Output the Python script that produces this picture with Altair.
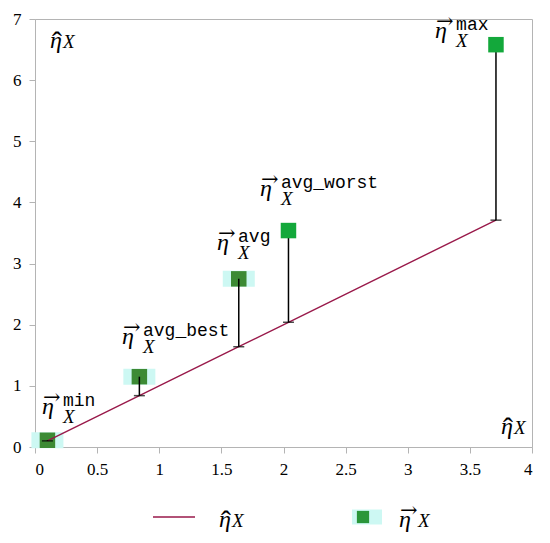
import altair as alt
import pandas as pd

# ---- data ----
names = ["min", "avg_best", "avg", "avg_worst", "max"]
eta_hat = [0.10, 0.84, 1.64, 2.04, 3.71]      # \hat{eta}_X (x and line value)
eta_vec = [0.11, 1.15, 2.75, 3.54, 6.58]      # \vec{eta}_X (square value)
tones = ["dark", "dark", "dark", "bright", "bright"]
label_x = [0.056, 0.70, 1.465, 1.81, 3.22]    # annotation anchor (left of eta glyph)
label_y = [0.72, 1.87, 3.40, 4.29, 6.87]      # annotation anchor (top of eta glyph)
x_ticks = [0, 0.5, 1, 1.5, 2, 2.5, 3, 3.5, 4]
y_ticks = [0, 1, 2, 3, 4, 5, 6, 7]

df = pd.DataFrame({"name": names, "hat": eta_hat, "vec": eta_vec,
                   "tone": tones, "lx": label_x, "ly": label_y})
one = pd.DataFrame({"k": [0]})

SERIF = "Liberation Serif"
MONO = "Liberation Mono"
ARROWF = "DejaVu Serif"
LINE_C = "#99194a"
HALO_C = "#cdf8f3"
GRAY = "#b4b4b4"

xs = alt.Scale(domain=[0, 4], nice=False, zero=False)
ys = alt.Scale(domain=[0, 7], nice=False, zero=False)

axis_style = dict(grid=False, domainColor=GRAY, tickColor=GRAY, tickSize=6,
                  labelFont=SERIF, labelFontSize=17, labelColor="black",
                  labelPadding=8, title=None)
X = alt.X("hat:Q", scale=xs, axis=alt.Axis(values=x_ticks, format="~g", **axis_style))
Y = alt.Y("hat:Q", scale=ys, axis=alt.Axis(values=y_ticks, format="d", **axis_style))

base = alt.Chart(df)

halo = base.transform_filter(alt.datum.tone == "dark").mark_point(
    shape="M-1,-0.5H1V0.5H-1Z", filled=True, opacity=1, size=1024, color=HALO_C
).encode(x=alt.X("hat:Q", scale=xs), y=alt.Y("vec:Q", scale=ys))

sq_dark = base.transform_filter(alt.datum.tone == "dark").mark_point(
    shape="square", filled=True, opacity=1, size=240, color="#3c8a34"
).encode(x=alt.X("hat:Q", scale=xs), y=alt.Y("vec:Q", scale=ys))

line = base.mark_line(color=LINE_C, strokeWidth=1.4).encode(x=X, y=Y)

rules = base.mark_rule(color="black", strokeWidth=1.5).encode(
    x=alt.X("hat:Q", scale=xs), y=alt.Y("hat:Q", scale=ys), y2="vec:Q")

ticks = base.mark_tick(orient="horizontal", size=11, thickness=1.5, color="black").encode(
    x=alt.X("hat:Q", scale=xs), y=alt.Y("hat:Q", scale=ys))

sq_bright = base.transform_filter(alt.datum.tone == "bright").mark_point(
    shape="square", filled=True, opacity=1, size=240, color="#13a83b"
).encode(x=alt.X("hat:Q", scale=xs), y=alt.Y("vec:Q", scale=ys))

lpos = dict(x=alt.X("lx:Q", scale=xs), y=alt.Y("ly:Q", scale=ys))
eta_t = base.mark_text(align="left", baseline="alphabetic", dy=11, font=SERIF,
                       fontStyle="italic", fontSize=24, color="black").encode(
    text=alt.value("η"), **lpos)
arrow_t = base.mark_text(align="left", baseline="middle", dx=1, dy=-5, font=ARROWF,
                         fontSize=21, color="black").encode(
    text=alt.value("→"), **lpos)
sup_t = base.mark_text(align="left", baseline="alphabetic", dx=21, dy=3, font=MONO,
                       fontSize=18, color="black").encode(text="name:N", **lpos)
sub_t = base.mark_text(align="left", baseline="alphabetic", dx=21, dy=20, font=SERIF,
                       fontStyle="italic", fontSize=19, color="black").encode(
    text=alt.value("X"), **lpos)

lg = alt.Chart(one)


def txt(s, x, y, size, font=SERIF, style="italic", align="left", baseline="alphabetic"):
    return lg.mark_text(align=align, baseline=baseline, font=font, fontStyle=style,
                        fontSize=size, color="black").encode(
        x=alt.value(x), y=alt.value(y), text=alt.value(s))


def hat_label(x, y):
    # eta with a hat, subscript X ; (x, y) = left / baseline of eta in plot pixels
    return [txt("η", x, y, 24),
            txt("ˆ", x + 7, y + 4, 30, style="normal", align="center"),
            txt("X", x + 13, y, 19)]


def vec_label(x, y):
    return [txt("η", x, y, 24),
            txt("→", x + 1, y - 16, 21, font=ARROWF, style="normal", baseline="middle"),
            txt("X", x + 19, y, 19)]


# axis-name annotations inside the plot
ann = hat_label(15, 29) + hat_label(466, 415)

# ---- legend below the plot (pixel positions in plot coordinates) ----
leg_line = lg.mark_rule(color=LINE_C, strokeWidth=1.4).encode(
    x=alt.value(118), x2=alt.value(160), y=alt.value(498))
leg_halo = lg.mark_point(shape="M-1,-0.5H1V0.5H-1Z", filled=True, opacity=1,
                         size=900, color=HALO_C).encode(
    x=alt.value(332), y=alt.value(498))
leg_sq = lg.mark_point(shape="square", filled=True, opacity=1, size=150,
                       color="#2b963a").encode(x=alt.value(328), y=alt.value(498))
legend = [leg_line] + hat_label(184, 508) + [leg_halo, leg_sq] + vec_label(364, 508)

chart = alt.layer(
    halo, sq_dark, line, rules, ticks, sq_bright,
    eta_t, arrow_t, sup_t, sub_t, *ann, *legend,
).properties(
    width=497, height=428,
    autosize=alt.AutoSizeParams(type="none"),
    padding={"left": 27, "top": 11, "right": 10, "bottom": 88},
    background="white",
).configure_view(
    stroke=GRAY, strokeWidth=1
)

chart.save("out.html", embed_options={"renderer": "svg", "actions": False})
